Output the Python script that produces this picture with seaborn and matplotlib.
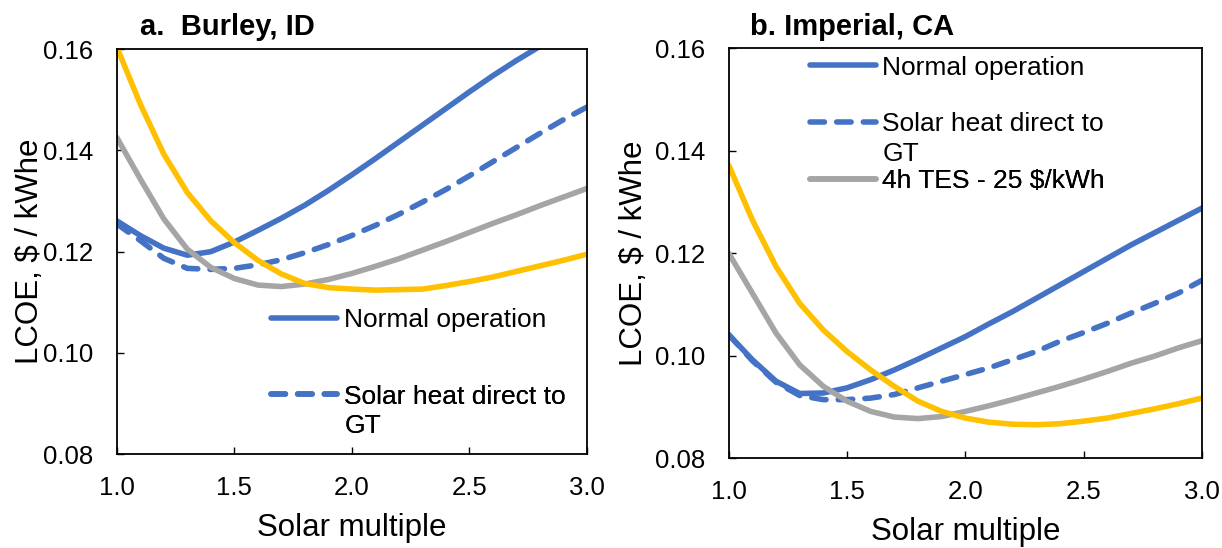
import matplotlib
matplotlib.use("Agg")
import matplotlib.pyplot as plt
from matplotlib.lines import Line2D
from matplotlib.ticker import FormatStrFormatter
from matplotlib.transforms import offset_copy
import numpy as np
import pandas as pd
import seaborn as sns

# Solar multiple sweep
solar_multiple = [1.0, 1.1, 1.2, 1.3, 1.4, 1.5, 1.6, 1.7, 1.8, 1.9, 2.0,
                  2.1, 2.2, 2.3, 2.4, 2.5, 2.6, 2.7, 2.8, 2.9, 3.0]

# LCOE ($/kWhe) - Burley, ID
burley_normal = [0.1261, 0.1232, 0.1207, 0.1193, 0.1200, 0.1219, 0.1242, 0.1266,
                 0.1292, 0.1321, 0.1352, 0.1384, 0.1417, 0.1450, 0.1483, 0.1516,
                 0.1548, 0.1578, 0.1606, 0.1634, 0.1662]
burley_direct_gt = [0.1255, 0.1222, 0.1187, 0.1167, 0.1165, 0.1167, 0.1174, 0.1184,
                    0.1198, 0.1214, 0.1232, 0.1252, 0.1274, 0.1298, 0.1323, 0.1350,
                    0.1378, 0.1406, 0.1434, 0.1461, 0.1486]
burley_tes_4h = [0.1426, 0.1344, 0.1265, 0.1205, 0.1169, 0.1147, 0.1134, 0.1131,
                 0.1136, 0.1145, 0.1157, 0.1171, 0.1186, 0.1203, 0.1220, 0.1238,
                 0.1256, 0.1273, 0.1291, 0.1308, 0.1325]
burley_case4 = [0.1605, 0.1492, 0.1393, 0.1317, 0.1261, 0.1218, 0.1183, 0.1156,
                0.1137, 0.1129, 0.1126, 0.1124, 0.1125, 0.1126, 0.1133, 0.1141,
                0.1150, 0.1161, 0.1172, 0.1183, 0.1195]

# LCOE ($/kWhe) - Imperial, CA
imperial_normal = [0.1041, 0.0992, 0.0950, 0.0926, 0.0927, 0.0937, 0.0953, 0.0972,
                   0.0993, 0.1015, 0.1037, 0.1062, 0.1086, 0.1112, 0.1138, 0.1164,
                   0.1190, 0.1216, 0.1240, 0.1264, 0.1288]
imperial_direct_gt = [0.1041, 0.0990, 0.0948, 0.0922, 0.0914, 0.0914, 0.0917, 0.0924,
                      0.0937, 0.0950, 0.0963, 0.0976, 0.0992, 0.1008, 0.1028, 0.1045,
                      0.1063, 0.1083, 0.1102, 0.1122, 0.1147]
imperial_tes_4h = [0.1200, 0.1122, 0.1044, 0.0982, 0.0940, 0.0911, 0.0891, 0.0880,
                   0.0877, 0.0881, 0.0891, 0.0902, 0.0914, 0.0927, 0.0940, 0.0954,
                   0.0969, 0.0985, 0.0999, 0.1015, 0.1029]
imperial_case4 = [0.1372, 0.1265, 0.1174, 0.1102, 0.1050, 0.1008, 0.0972, 0.0940,
                  0.0911, 0.0891, 0.0878, 0.0870, 0.0866, 0.0865, 0.0867, 0.0872,
                  0.0878, 0.0887, 0.0896, 0.0906, 0.0917]

case_keys = ["normal", "direct_gt", "tes_4h", "case4"]
case_labels = {"normal": "Normal operation",
               "direct_gt": "Solar heat direct to\nGT",
               "tes_4h": "4h TES - 25 $/kWh"}
palette = {"normal": "#4472C4", "direct_gt": "#4472C4",
           "tes_4h": "#A5A5A5", "case4": "#FFC000"}
dash_styles = {"normal": "", "direct_gt": (2.6, 2.2), "tes_4h": "", "case4": ""}

y_ticks = [0.08, 0.10, 0.12, 0.14, 0.16]
x_ticks = [1.0, 1.5, 2.0, 2.5, 3.0]

LW = 4.0
FS_KEY = 19
FS_TICK = 18.5

sns.set_theme(style="white")
plt.rcParams["font.family"] = ["Liberation Sans", "DejaVu Sans"]
plt.rcParams["axes.edgecolor"] = "black"
plt.rcParams["axes.linewidth"] = 1.3

fig = plt.figure(figsize=(12.22, 5.48), dpi=100)
ax_a = fig.add_axes([0.0955, 0.1715, 0.3849, 0.7385])
ax_b = fig.add_axes([0.5963, 0.1642, 0.3873, 0.7476])


def long_frame(series):
    return pd.DataFrame({
        "solar_multiple": np.tile(solar_multiple, len(series)),
        "lcoe": np.concatenate(series),
        "case": np.repeat(case_keys, len(solar_multiple)),
    })


def draw_panel(ax, series, title, title_x, title_y, ylabel_x):
    df = long_frame(series)
    sns.lineplot(data=df, x="solar_multiple", y="lcoe", hue="case", style="case",
                 hue_order=case_keys, style_order=case_keys, palette=palette,
                 dashes=dash_styles, linewidth=LW, legend=False, sort=False,
                 errorbar=None, ax=ax)
    for ln in ax.lines:
        ln.set_solid_capstyle("round")
        ln.set_dash_capstyle("round")
        ln.set_solid_joinstyle("round")
    ax.set_xlim(1.0, 3.0)
    ax.set_ylim(0.08, 0.16)
    ax.set_xticks(x_ticks)
    ax.set_yticks(y_ticks)
    ax.xaxis.set_major_formatter(FormatStrFormatter("%.1f"))
    ax.yaxis.set_major_formatter(FormatStrFormatter("%.2f"))
    ax.tick_params(direction="in", length=5, width=1, color="black",
                   labelsize=FS_TICK, labelcolor="black", left=True, bottom=True,
                   top=False, right=False)
    ax.tick_params(axis="x", pad=15.5)
    ax.tick_params(axis="y", pad=17)
    for sp in ax.spines.values():
        sp.set_visible(True)
        sp.set_color("black")
    ax.set_xlabel("Solar multiple", fontsize=22.5, labelpad=10, color="black")
    ax.set_ylabel("LCOE, $ / kWhe", fontsize=22.5, color="black")
    ax.yaxis.set_label_coords(ylabel_x, 0.5)
    ax.text(title_x, title_y, title, transform=ax.transAxes, ha="left",
            va="baseline", fontsize=21, fontweight="bold", color="black")


def add_key(ax, case, x, y_center):
    style = dict(color=palette[case], linewidth=LW, solid_capstyle="round",
                 dash_capstyle="round")
    if dash_styles[case]:
        style["dashes"] = dash_styles[case]
    handle = Line2D([], [], **style)
    anchor = offset_copy(ax.transAxes, fig=fig, y=0.358 * FS_KEY, units="points")
    leg = ax.legend([handle], [case_labels[case]], loc="upper left",
                    bbox_to_anchor=(x, y_center), bbox_transform=anchor,
                    frameon=False, borderpad=0, borderaxespad=0,
                    handlelength=2.5, handletextpad=0.26, fontsize=FS_KEY,
                    labelcolor="black")
    leg.get_texts()[0].set_linespacing(1.3)
    ax.add_artist(leg)
    return leg


draw_panel(ax_a, [burley_normal, burley_direct_gt, burley_tes_4h, burley_case4],
           "a.  Burley, ID", 0.0495, 1.035, -0.153)
draw_panel(ax_b, [imperial_normal, imperial_direct_gt, imperial_tes_4h, imperial_case4],
           "b. Imperial, CA", 0.045, 1.0325, -0.169)

keys = [
    add_key(ax_a, "normal", 0.329, 0.337),
    add_key(ax_a, "direct_gt", 0.329, 0.148),
    add_key(ax_b, "normal", 0.171, 0.959),
    add_key(ax_b, "direct_gt", 0.171, 0.821),
    add_key(ax_b, "tes_4h", 0.171, 0.683),
]

# Align each key's line with the first line of a wrapped label
fig.canvas.draw()
renderer = fig.canvas.get_renderer()
px_per_pt = fig.dpi / 72.0
for leg in keys:
    txt = leg.get_texts()[0]
    if "\n" not in txt.get_text():
        continue
    bb = txt.get_window_extent(renderer)
    target = bb.y1 - 0.358 * FS_KEY * px_per_pt
    h = leg.legend_handles[0]
    hb = h.get_window_extent(renderer)
    current = 0.5 * (hb.y0 + hb.y1)
    h.set_ydata(np.asarray(h.get_ydata(), dtype=float) + (target - current) / px_per_pt)

fig.savefig("out.png", dpi=100)
